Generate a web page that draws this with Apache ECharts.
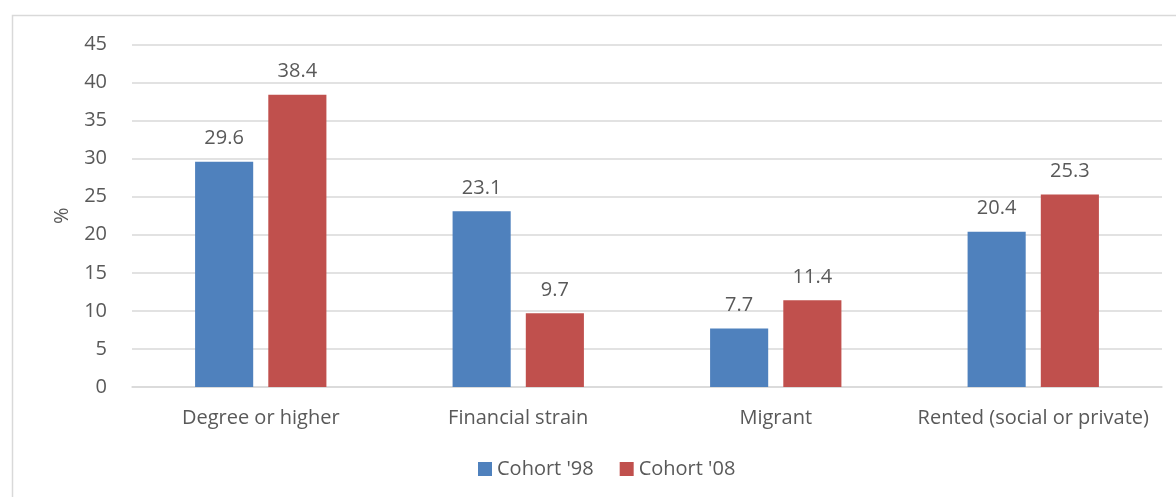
<!DOCTYPE html>
<html>
<head>
<meta charset="utf-8">
<script src="https://cdn.jsdelivr.net/npm/echarts@6/dist/echarts.min.js"></script>
<style>
  html, body { margin: 0; padding: 0; background: #fff; }
  #chart { width: 1176px; height: 497px; }
</style>
</head>
<body>
<div id="chart"></div>
<script>
  const categories = ['Degree or higher', 'Financial strain', 'Migrant', 'Rented (social or private)']
  const cohort98 = [29.6, 23.1, 7.7, 20.4]
  const cohort08 = [38.4, 9.7, 11.4, 25.3]
  const seriesNames = ["Cohort '98", "Cohort '08"]

  const font = '"Open Sans", "Liberation Sans", sans-serif'
  const textColor = '#595959'
  const fs = 20

  const chart = echarts.init(document.getElementById('chart'), null, { renderer: 'canvas' })
  chart.setOption({
    animation: false,
    textStyle: { fontFamily: font },
    graphic: [{
      type: 'rect',
      shape: { x: 12.5, y: 15.5, width: 1200, height: 600 },
      style: { fill: 'none', stroke: '#d9d9d9', lineWidth: 1.5 },
      silent: true
    }],
    legend: {
      bottom: 13,
      left: 473,
      icon: 'rect',
      itemWidth: 14,
      itemHeight: 14,
      itemGap: 26,
      itemStyle: { borderWidth: 0 },
      data: seriesNames,
      textStyle: { fontSize: fs, color: textColor, fontFamily: font }
    },
    grid: {
      left: 132,
      right: 14,
      top: 44.5,
      bottom: 110
    },
    xAxis: {
      type: 'category',
      data: categories,
      axisLine: { lineStyle: { color: '#d9d9d9', width: 1.5 } },
      axisTick: { show: false },
      axisLabel: { interval: 0, fontSize: fs, color: textColor, margin: 21, fontFamily: font }
    },
    yAxis: {
      type: 'value',
      min: 0,
      max: 45,
      interval: 5,
      name: '%',
      nameLocation: 'middle',
      nameGap: 60,
      nameRotate: 90,
      nameTextStyle: { fontSize: fs, color: textColor, fontFamily: font },
      axisLine: { show: false },
      axisTick: { show: false },
      axisLabel: { fontSize: fs, color: textColor, margin: 25, fontFamily: font },
      splitLine: { lineStyle: { color: '#d9d9d9', width: 1.5 } }
    },
    series: [
      {
        name: seriesNames[0],
        type: 'bar',
        data: cohort98,
        barGap: '26%',
        barCategoryGap: '49%',
        itemStyle: { color: '#4F81BD' },
        label: { show: true, position: 'top', distance: 13, fontSize: fs, color: textColor, fontFamily: font }
      },
      {
        name: seriesNames[1],
        type: 'bar',
        data: cohort08,
        barGap: '26%',
        barCategoryGap: '49%',
        itemStyle: { color: '#C0504D' },
        label: { show: true, position: 'top', distance: 13, fontSize: fs, color: textColor, fontFamily: font }
      }
    ]
  })
</script>
</body>
</html>
